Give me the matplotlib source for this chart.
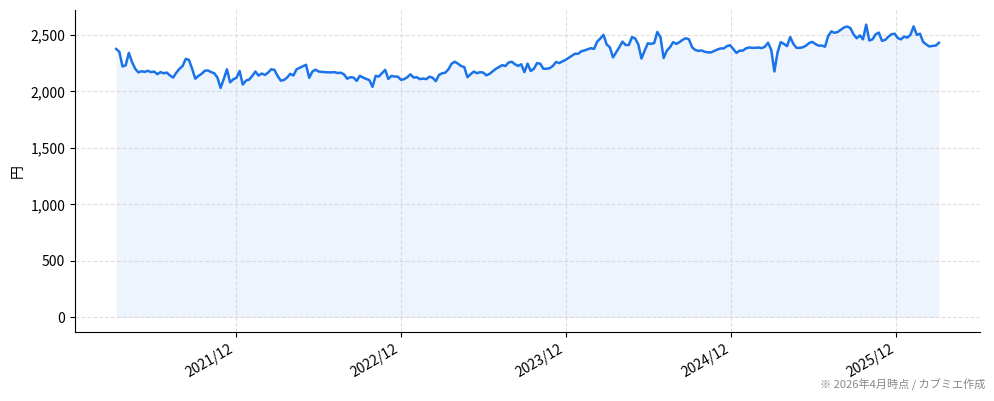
import numpy as np
import pandas as pd
import matplotlib
matplotlib.use("Agg")
import matplotlib.pyplot as plt
import matplotlib.dates as mdates
from matplotlib.ticker import FuncFormatter

plt.rcParams['font.family'] = ['Noto Sans CJK JP', 'DejaVu Sans']

# 週次終値（チャートから読み取り）
start_date = "2021-03-12"
prices_2021 = [2375, 2350, 2220, 2230, 2340, 2260, 2200, 2168, 2178, 2172,
               2182, 2170, 2175, 2152, 2170, 2160, 2166, 2140, 2122, 2165,
               2200, 2225, 2288, 2278, 2200, 2112, 2137, 2155, 2182, 2185,
               2170, 2160, 2122, 2030, 2110, 2195, 2080, 2106, 2120, 2180]
prices_2022 = [2060, 2095, 2104, 2137, 2175, 2140, 2158, 2145, 2166, 2195,
               2190, 2137, 2095, 2100, 2122, 2155, 2140, 2195, 2209, 2222,
               2235, 2120, 2175, 2192, 2175, 2172, 2170, 2168, 2168, 2170,
               2162, 2165, 2150, 2112, 2125, 2122, 2093, 2138, 2122, 2110,
               2100, 2040, 2137, 2131, 2160, 2190, 2110, 2137, 2131, 2130]
prices_2023 = [2102, 2108, 2125, 2151, 2122, 2125, 2108, 2113, 2108, 2130,
               2120, 2090, 2145, 2160, 2165, 2195, 2245, 2262, 2245, 2224,
               2215, 2125, 2151, 2175, 2160, 2170, 2166, 2142, 2155, 2178,
               2200, 2215, 2232, 2224, 2255, 2262, 2240, 2225, 2240, 2170,
               2245, 2180, 2200, 2250, 2245, 2200, 2200, 2205, 2225, 2260]
prices_2024 = [2250, 2265, 2278, 2297, 2315, 2333, 2332, 2355, 2362, 2372,
               2382, 2375, 2440, 2468, 2500, 2415, 2390, 2300, 2345, 2391,
               2440, 2410, 2410, 2480, 2468, 2415, 2290, 2360, 2425, 2420,
               2427, 2525, 2480, 2295, 2360, 2390, 2435, 2420, 2435, 2456,
               2470, 2460, 2390, 2366, 2358, 2362, 2350, 2345, 2345, 2358,
               2370, 2380, 2380, 2400, 2408, 2375, 2340, 2360, 2360, 2380]
prices_2025 = [2388, 2385, 2385, 2388, 2382, 2395, 2430, 2368, 2176, 2345,
               2435, 2420, 2400, 2480, 2420, 2385, 2385, 2390, 2405, 2428,
               2438, 2418, 2404, 2405, 2395, 2490, 2530, 2518, 2525, 2545,
               2565, 2574, 2560, 2505, 2470, 2495, 2460, 2590, 2450, 2460,
               2505, 2520, 2447, 2455, 2483, 2505, 2510, 2471, 2460, 2485,
               2475, 2500, 2575, 2500, 2510, 2438, 2415, 2397, 2402, 2405,
               2430]
prices = prices_2021 + prices_2022 + prices_2023 + prices_2024 + prices_2025
dates = pd.date_range(start_date, periods=len(prices), freq="7D")

line_color = "#1a73e8"

fig = plt.figure(figsize=(9.94, 4.01), dpi=100)
ax = fig.add_axes([0.0755, 0.172, 0.9105, 0.803])

ax.fill_between(dates, prices, 0, color=line_color, alpha=0.08, linewidth=0)
ax.plot(dates, prices, color=line_color, linewidth=1.8)

ax.xaxis.set_major_locator(mdates.MonthLocator(bymonth=12))
ax.xaxis.set_major_formatter(mdates.DateFormatter("%Y/%m"))
ax.yaxis.set_major_formatter(FuncFormatter(lambda v, p: f"{int(v):,}"))
ax.set_ylabel("円", fontsize=10)
ax.tick_params(labelsize=10)
plt.setp(ax.get_xticklabels(), rotation=30, ha="right")

ax.grid(True, linestyle="--", color="#cccccc", alpha=0.6, linewidth=0.8)
ax.spines["top"].set_visible(False)
ax.spines["right"].set_visible(False)

fig.text(0.991, 0.025, "※ 2026年4月時点 / カブミエ作成", ha="right", va="bottom",
         fontsize=8, color="#888888")

fig.savefig("out.png", dpi=100)
